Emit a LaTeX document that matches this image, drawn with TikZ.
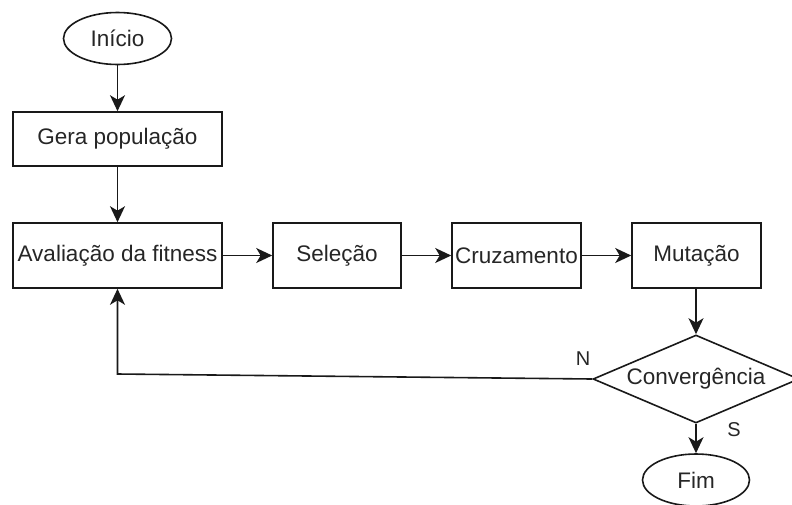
\documentclass[tikz,border=0pt]{standalone}
\usepackage{fontspec}
\setmainfont{Liberation Sans}
\usetikzlibrary{arrows.meta,shapes.geometric}
\begin{document}
\begin{tikzpicture}[x=1pt,y=-1pt,
  every node/.style={font=\fontsize{22.5}{26}\selectfont, text=black!85, inner sep=0pt, line width=1.6pt, draw=black!90},
  box/.style={rectangle, minimum height=65pt},
  oval/.style={ellipse, minimum width=108pt, minimum height=52pt},
  lbl/.style={draw=none},
  conn/.style={line width=1.6pt, draw=black!90, -{Stealth[length=16pt,width=15pt,inset=4.5pt]}}]
\useasboundingbox (0,0) rectangle (792,504);
\clip (0,0) rectangle (792,504);
\node[oval] (ini) at (117.5,38.5) {Início};
\node[box, minimum width=209pt, minimum height=54pt] (gera) at (117.5,139) {Gera população};
\node[box, minimum width=209pt] (aval) at (117.5,255.5) {Avaliação da fitness};
\node[box, minimum width=128pt] (sel) at (337,255.5) {Seleção};
\node[box, minimum width=129pt] (cruz) at (516.5,255.5) {Cruzamento};
\node[box, minimum width=129pt] (mut) at (696.5,255.5) {Mutação};
\node[diamond, aspect=2.34, minimum width=206pt, minimum height=88pt] (conv) at (696,379) {Convergência};
\node[oval, minimum width=107pt] (fim) at (696,480) {Fim};
\node[lbl] (n) at (583,359) {\fontsize{20}{22}\selectfont N};
\node[lbl] (s) at (734,430) {\fontsize{20}{22}\selectfont S};
\coordinate (fb) at (117.5,374);
\draw[conn] (ini) -- (gera);
\draw[conn] (gera) -- (aval);
\draw[conn] (aval) -- (sel);
\draw[conn] (sel) -- (cruz);
\draw[conn] (cruz) -- (mut);
\draw[conn] (mut.south -| conv.north) -- (conv.north);
\draw[conn] (conv) -- (fim);
\draw[conn] (conv.west) -- (fb) -- (aval.south);
\end{tikzpicture}
\end{document}
